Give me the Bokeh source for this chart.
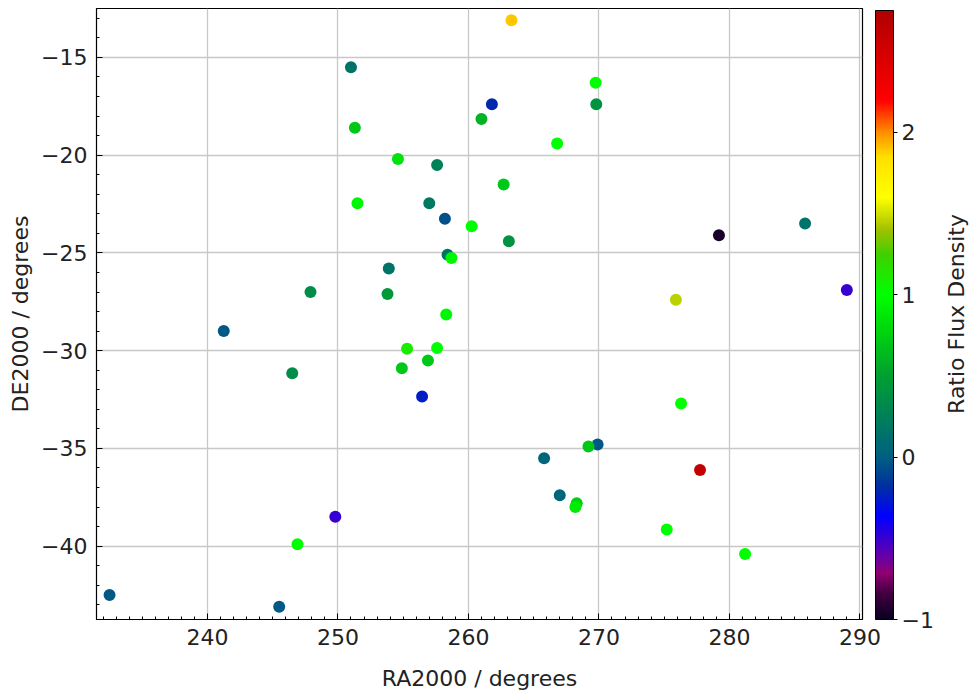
import numpy as np
from bokeh.plotting import figure
from bokeh.layouts import row
from bokeh.models import (ColumnDataSource, LinearColorMapper, ColorBar,
                          FixedTicker, Label, Range1d)
from bokeh.embed import file_html
from bokeh.resources import INLINE

# ---- data ----
ra = [263.3, 251.0, 261.8, 261.0, 251.3, 254.6, 257.6, 251.5, 257.0, 258.2,
      260.25, 258.4, 258.7, 253.9, 247.9, 253.8, 258.3, 269.75, 269.8, 266.8,
      262.7, 263.1, 279.2, 285.8, 275.9, 289.0, 241.25, 255.3, 257.6, 256.9,
      254.9, 246.5, 256.45, 249.8, 246.9, 232.5, 245.5, 276.3, 269.9, 269.2,
      265.8, 277.75, 267.0, 268.3, 268.2, 275.2, 281.2]
de = [-13.1, -15.5, -17.4, -18.15, -18.6, -20.2, -20.5, -22.46, -22.46, -23.25,
      -23.64, -25.1, -25.26, -25.8, -27.0, -27.1, -28.15, -16.3, -17.4, -19.4,
      -21.5, -24.4, -24.1, -23.5, -27.4, -26.9, -29.0, -29.9, -29.86, -30.5,
      -30.9, -31.15, -32.35, -38.5, -39.9, -42.5, -43.1, -32.7, -34.8, -34.9,
      -35.5, -36.1, -37.4, -37.8, -38.0, -39.15, -40.4]
ratio = [1.9, 0.15, -0.2, 0.6, 0.7, 0.85, 0.25, 0.95, 0.2, -0.05,
         1.0, 0.15, 0.95, 0.15, 0.35, 0.45, 0.95, 1.0, 0.4, 1.0,
         0.7, 0.4, -0.95, 0.15, 1.45, -0.5, -0.03, 1.1, 1.0, 0.7,
         0.7, 0.35, -0.25, -0.5, 1.0, -0.03, -0.03, 1.0, -0.03, 0.7,
         0.05, 2.6, 0.05, 0.75, 0.9, 1.0, 1.0]

x_ticks = [240, 250, 260, 270, 280, 290]
y_ticks = [-40, -35, -30, -25, -20, -15]
cbar_ticks = [-1, 0, 1, 2]
cbar_title = "Ratio Flux Density"
c_low, c_high = -1.0, 2.75
y_lo, y_hi = -43.75, -12.5

# ---- colour map (style) ----
anchors = [(-1.0, "#0a0022"), (-0.85, "#400040"), (-0.72, "#900070"),
           (-0.6, "#6000b0"), (-0.37, "#0000ff"), (-0.18, "#0030a0"),
           (0.0, "#006080"), (0.2, "#007a60"), (0.5, "#00a030"),
           (0.75, "#00d010"), (1.0, "#00ff00"), (1.25, "#40d000"),
           (1.4, "#a0c000"), (1.6, "#ffff00"), (1.85, "#ffe000"),
           (2.0, "#ff9000"), (2.2, "#ff0000"), (2.75, "#b00000")]
av = np.array([a[0] for a in anchors])
ac = np.array([[int(h[1:3], 16), int(h[3:5], 16), int(h[5:7], 16)] for _, h in anchors])
grid_v = np.linspace(c_low, c_high, 256)
palette = []
for v in grid_v:
    rgb = [int(round(np.interp(v, av, ac[:, k]))) for k in range(3)]
    palette.append("#%02x%02x%02x" % tuple(rgb))

mapper = LinearColorMapper(palette=palette, low=c_low, high=c_high)

src = ColumnDataSource(dict(ra=ra, de=de, ratio=ratio))

FONT = "DejaVu Sans"
TXT = "#222222"

p = figure(frame_width=766, frame_height=611,
           min_border_left=96, min_border_top=8, min_border_bottom=75,
           min_border_right=72,
           x_range=Range1d(231.5, 290.2), y_range=Range1d(y_lo, y_hi),
           output_backend="svg", toolbar_location=None,
           background_fill_color="white", border_fill_color="white")

p.scatter("ra", "de", source=src, size=12, line_color=None,
          fill_color={"field": "ratio", "transform": mapper})

p.outline_line_color = "black"
p.outline_line_width = 1.2

for ax in (p.xaxis[0], p.yaxis[0]):
    ax.major_tick_in = 6
    ax.major_tick_out = 0
    ax.minor_tick_in = 3
    ax.minor_tick_out = 0
    ax.major_tick_line_color = "black"
    ax.minor_tick_line_color = "black"
    ax.axis_line_color = "black"
    ax.major_label_text_font = FONT
    ax.major_label_text_font_size = "22px"
    ax.major_label_text_color = TXT
    ax.axis_label_text_font = FONT
    ax.axis_label_text_font_size = "22px"
    ax.axis_label_text_font_style = "normal"
    ax.axis_label_text_color = TXT

p.xaxis.ticker = FixedTicker(ticks=x_ticks,
                             minor_ticks=list(range(232, 291)))
p.yaxis.ticker = FixedTicker(ticks=y_ticks,
                             minor_ticks=list(range(-43, -12)))
p.xaxis.axis_label = "RA2000 / degrees"
p.yaxis.axis_label = "DE2000 / degrees"
p.xaxis.major_label_standoff = 9
p.xaxis.axis_label_standoff = 18
p.yaxis.major_label_standoff = 9
p.yaxis.axis_label_standoff = 5

p.xgrid.grid_line_color = "#c8c8c8"
p.ygrid.grid_line_color = "#c8c8c8"
p.xgrid.grid_line_width = 1.3
p.ygrid.grid_line_width = 1.3

cb = ColorBar(color_mapper=mapper, width=18, height=609,
              location=(13, 0), margin=0, padding=0,
              ticker=FixedTicker(ticks=cbar_ticks),
              bar_line_color="black", bar_line_width=1,
              major_tick_in=0, major_tick_out=4,
              major_tick_line_color="black",
              minor_tick_line_color=None,
              label_standoff=4,
              major_label_text_font=FONT,
              major_label_text_font_size="22px",
              major_label_text_color=TXT,
              background_fill_color=None, border_line_color=None)
p.add_layout(cb, "right")

# narrow companion canvas that carries the rotated colour-bar title
t = figure(width=36, height=694, min_border=0,
           x_range=Range1d(0, 1), y_range=Range1d(0, 1),
           output_backend="svg", toolbar_location=None,
           background_fill_color="white", border_fill_color="white",
           outline_line_color=None)
t.axis.visible = False
t.grid.visible = False
t.add_layout(Label(x=20, y=0.5, x_units="screen", y_units="data",
                   text=cbar_title, angle=np.pi / 2,
                   text_align="center", text_baseline="middle",
                   text_font=FONT, text_font_size="22px", text_color=TXT))

layout = row(p, t, spacing=0)

open("out.html", "w").write(file_html(layout, INLINE))
